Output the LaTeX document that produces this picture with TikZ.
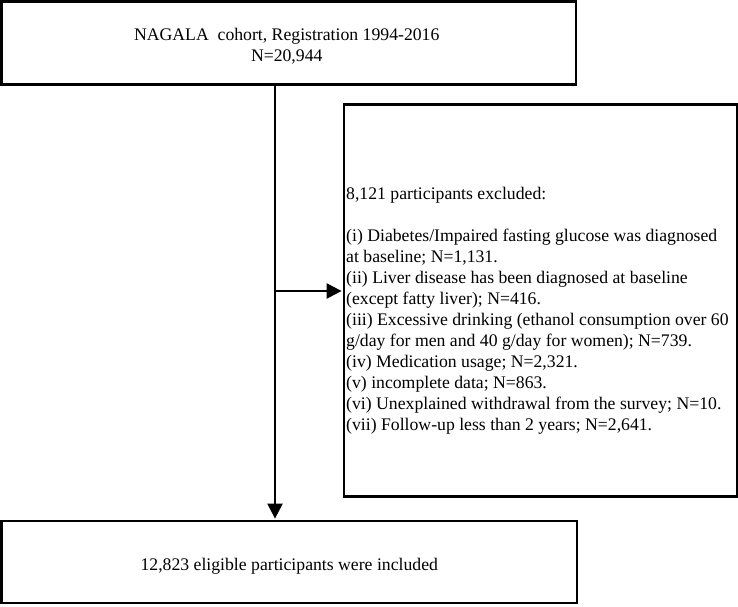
\documentclass[tikz,border=0pt]{standalone}
\usepackage{fontspec}
\setmainfont{Liberation Serif}
\usetikzlibrary{arrows.meta}
\newcommand{\lowertext}[1]{\raisebox{-4pt}[\height][\depth]{#1}}
\begin{document}
\begin{tikzpicture}[x=1pt,y=-1pt,
  txt/.style={font=\fontsize{17.7}{21}\selectfont},
  box/.style={draw, line width=2.8pt, rectangle, inner sep=0pt, align=center, txt},
  conn/.style={line width=2.3pt, -{Triangle[length=15pt,width=15pt]}, shorten >=1pt}]
\useasboundingbox (0,0) rectangle (738,606);
\node[box, minimum width=574.5pt, minimum height=83pt] (top) at (288.75,43)
  {\lowertext{\begin{tabular}{@{}c@{}}NAGALA\ \ cohort, Registration 1994-2016\\N=20,944\end{tabular}}\hspace*{4pt}};
\node[box, minimum width=393pt, minimum height=392pt] (excl) at (540.5,300.4) {};
\node[txt, anchor=west, align=left, inner sep=0pt] (excltext) at (346,311)
  {8,121 participants excluded:\\[21pt]
   (i) Diabetes/Impaired fasting glucose was diagnosed\\
   at baseline; N=1,131.\\
   (ii) Liver disease has been diagnosed at baseline\\
   (except fatty liver); N=416.\\
   (iii) Excessive drinking (ethanol consumption over 60\\
   g/day for men and 40 g/day for women); N=739.\\
   (iv) Medication usage; N=2,321.\\
   (v) incomplete data; N=863.\\
   (vi) Unexplained withdrawal from the survey; N=10.\\
   (vii) Follow-up less than 2 years; N=2,641.};
\node[box, minimum width=575.5pt, minimum height=82pt] (bot) at (289.25,562)
  {\lowertext{12,823 eligible participants were included}};
\coordinate (trunk) at (275,0);
\coordinate (branch) at (275,291);
\draw[conn] (top.south -| trunk) -- (bot.north -| trunk);
\draw[conn] (branch) -- (branch -| excl.west);
\end{tikzpicture}
\end{document}
